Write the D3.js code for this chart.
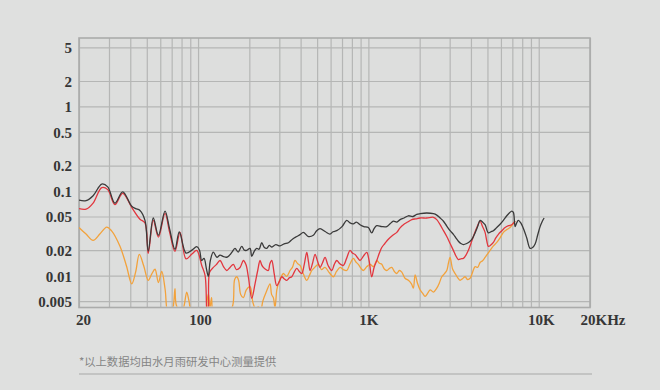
<!DOCTYPE html>
<html><head><meta charset="utf-8">
<script src="https://cdn.jsdelivr.net/npm/d3@7/dist/d3.min.js"></script>
<style>
html,body{margin:0;padding:0;background:#dfe0df;}
svg{display:block;}
</style></head>
<body>
<svg id="chart" width="660" height="390"></svg>
<script>
// ---- data ----
const yTickValues = [5, 2, 1, 0.5, 0.2, 0.1, 0.05, 0.02, 0.01, 0.005];
const yTickLabels = ["5", "2", "1", "0.5", "0.2", "0.1", "0.05", "0.02", "0.01", "0.005"];
const xGridValues = [20,30,40,50,60,70,80,90,100,200,300,400,500,600,700,800,900,1000,2000,3000,4000,5000,6000,7000,8000,9000,10000,20000];
const xTickValues = [20, 100, 1000, 10000, 20000];
const xTickLabels = ["20", "100", "1K", "10K", "20KHz"];
const footnote = "*以上数据均由水月雨研发中心测量提供";

// black series (freq Hz, value)
const blackFreq = [20,22,24.2,27.2,29.5,32.5,36.1,40.8,43,45.6,48.8,51,54.6,58.5,64,68,73.2,77.6,85,92,98.2,102,105,108.4,112,114.9,118,122.9,129,134.6,141,147.4,152,157.7,164.8,172,180.5,187,193,201.9,206.6,214,221,228,236.5,245,253,262,270,286,303,320,339,358,379.7,397,415,445,475,497,520,560,595,620,652,700,746,780,816,850,893,940,1000,1046,1080,1120,1200,1282,1340,1402,1470,1535,1620,1717,1820,1923,2011,2200,2408,2520,2636,2760,2885,3017,3155,3260,3375,3490,3611,3780,3954,4100,4230,4380,4526,4680,4842,5063,5240,5417,5670,5932,6200,6493,6720,6947,7100,7264,7420,7596,7850,8128,8500,8899,9200,9522,9850,10187,10500,10756];
const blackVal  = [0.078,0.077,0.088,0.121,0.112,0.072,0.098,0.066,0.062,0.059,0.045,0.0195,0.048,0.030,0.058,0.036,0.0205,0.033,0.0185,0.020,0.022,0.020,0.0151,0.016,0.012,0.0098,0.015,0.019,0.0165,0.0175,0.0168,0.0165,0.0172,0.0188,0.021,0.019,0.0222,0.020,0.0199,0.021,0.0169,0.0195,0.021,0.0205,0.0245,0.0215,0.021,0.0228,0.0218,0.0232,0.0225,0.0238,0.0245,0.027,0.029,0.0305,0.0325,0.029,0.030,0.034,0.036,0.033,0.031,0.033,0.034,0.038,0.045,0.042,0.041,0.043,0.040,0.038,0.037,0.032,0.036,0.039,0.038,0.038,0.041,0.044,0.043,0.046,0.048,0.051,0.050,0.053,0.054,0.055,0.054,0.052,0.048,0.044,0.0385,0.034,0.0308,0.028,0.0255,0.024,0.0233,0.024,0.0255,0.028,0.032,0.038,0.045,0.043,0.040,0.032,0.033,0.034,0.037,0.0405,0.045,0.051,0.055,0.058,0.056,0.038,0.042,0.045,0.042,0.036,0.028,0.021,0.0215,0.0237,0.030,0.038,0.044,0.048];

// red series
const redFreq = [20,22,24.2,27.2,29.5,32.5,36.1,40.8,45.6,48.8,51,54.6,58.5,64,68,73.2,78.4,85,92,98.2,105.1,110,112.9,115,117,122.9,128,134.6,141,147.4,154,161.1,168,176.4,184.5,191,197.3,206.6,216,224,231.1,236,241.7,250,258.6,264,270.8,280,289.7,300,310,320,331.7,343,354.9,367,379.7,393,406.3,420,434.8,445,454.6,470,486.4,503,520.4,538,556.5,580,609.4,630,652,680,712.9,745,780.4,805,835,860,893,935,978,1010,1046,1080,1120,1160,1198,1250,1310,1390,1468,1530,1605,1700,1798,1900,2011,2202,2408,2520,2636,2760,2885,3017,3155,3260,3375,3490,3611,3740,3864,4000,4134,4330,4526,4680,4842,4950,5063,5230,5417,5600,5797,6080,6346,6650,6947,7264];
const redVal  = [0.062,0.061,0.072,0.110,0.104,0.069,0.094,0.064,0.0465,0.042,0.0183,0.045,0.0285,0.0545,0.033,0.0194,0.0325,0.0158,0.018,0.0199,0.0132,0.010,0.0035,0.0042,0.011,0.0125,0.0135,0.0151,0.0128,0.0115,0.0125,0.0136,0.0118,0.0125,0.0151,0.0135,0.0097,0.0054,0.0080,0.0115,0.0151,0.0135,0.0125,0.0118,0.0115,0.0138,0.0151,0.0105,0.0076,0.0085,0.0097,0.0092,0.0088,0.0094,0.0097,0.0110,0.0122,0.0112,0.0106,0.0135,0.0188,0.0145,0.0115,0.0140,0.0178,0.0148,0.0125,0.0142,0.0164,0.0132,0.0115,0.0135,0.0151,0.0138,0.0132,0.0160,0.0199,0.0185,0.0178,0.0165,0.0151,0.0170,0.0188,0.0150,0.0097,0.0125,0.0151,0.0185,0.0215,0.0240,0.0269,0.0300,0.0325,0.0365,0.040,0.043,0.046,0.047,0.048,0.048,0.049,0.046,0.040,0.034,0.029,0.024,0.0199,0.0172,0.0155,0.0158,0.016,0.0175,0.0199,0.024,0.029,0.037,0.044,0.038,0.0325,0.026,0.0222,0.023,0.0247,0.028,0.0308,0.034,0.037,0.039,0.040,0.044];

// orange series
const orangeFreq = [20,22,24.2,26.5,29.1,31,34.8,38,40.8,43,45.2,48,51,53.5,55.9,58.5,61.2,64,66.9,70,72,73.2,74.5,80,83,85.8,88.5,92,100,110,113,115,117.5,120,123,130,150,160,164,168.7,173,178,184.5,192,201.9,210,218,225.8,233,240,252,264.6,270,276.7,283,290,296.1,306,316.8,331,346.8,358,371.1,385,397.1,415,434.8,450,465.2,485,508.6,530,556.5,590,622.8,650,682,712,746,780,816,845,873,905,934,980,1023,1070,1120,1160,1198,1240,1282,1330,1372,1420,1468,1520,1571,1640,1717,1790,1837,1880,1940,2011,2080,2152,2230,2303,2410,2521,2610,2697,2790,2885,2950,3017,3120,3228,3340,3453,3570,3695,3820,3954,4090,4230,4380,4526,4680,4842,5000,5181,5420,5673,5930,6202,6490,6789,7000,7264];
const orangeVal  = [0.037,0.031,0.0261,0.031,0.0375,0.034,0.0222,0.013,0.0080,0.011,0.0178,0.0130,0.0088,0.0105,0.0119,0.0083,0.0112,0.007,0.0035,0.0035,0.0048,0.0070,0.0045,0.0035,0.0045,0.0064,0.0050,0.0035,0.0035,0.0035,0.0050,0.0061,0.0042,0.0055,0.0035,0.0035,0.0035,0.0045,0.0090,0.0097,0.0088,0.0060,0.0055,0.0068,0.0074,0.0048,0.0040,0.0043,0.0038,0.0050,0.0065,0.0080,0.0060,0.0055,0.0042,0.0068,0.0080,0.0095,0.0106,0.0098,0.0115,0.0125,0.0151,0.0138,0.0132,0.0105,0.0088,0.0100,0.0115,0.0126,0.0136,0.0118,0.0125,0.0108,0.0097,0.0112,0.0125,0.0118,0.0115,0.0138,0.0160,0.0145,0.0136,0.0122,0.0115,0.0128,0.0136,0.0128,0.0151,0.0140,0.0136,0.0120,0.0115,0.0122,0.0125,0.0112,0.0106,0.0115,0.0110,0.0093,0.0088,0.0080,0.0071,0.0102,0.0082,0.0068,0.0062,0.0057,0.0062,0.0068,0.0064,0.0071,0.0082,0.0097,0.0105,0.0115,0.0140,0.0164,0.0120,0.0106,0.0095,0.0088,0.0092,0.0097,0.0090,0.0093,0.0110,0.0128,0.0125,0.0143,0.0150,0.0164,0.0180,0.0199,0.0225,0.0247,0.0280,0.0325,0.0350,0.037,0.040,0.044];

// ---- chart ----
const svg = d3.select("#chart");
const pL = 79, pR = 590, pT = 38, pB = 307.5;
const x = d3.scaleLog().domain([20, 20000]).range([pL, pR]);
const y = d3.scaleLog().domain([0.0042, 6.45]).range([pB, pT]);

svg.append("rect").attr("width",660).attr("height",390).attr("fill","#dfe0df");
svg.append("rect").attr("x",pL).attr("y",pT).attr("width",pR-pL).attr("height",pB-pT).attr("fill","#dddedd");

// grid
const gridColor = "#b5b6b5";
const gx = svg.append("g").attr("transform",`translate(0,${pB})`)
  .call(d3.axisBottom(x).tickValues(xGridValues).tickSize(-(pB-pT)).tickFormat(""));
gx.select(".domain").remove();
gx.selectAll("line").attr("stroke",gridColor).attr("stroke-width",1.2);
const gy = svg.append("g").attr("transform",`translate(${pL},0)`)
  .call(d3.axisLeft(y).tickValues(yTickValues).tickSize(-(pR-pL)).tickFormat(""));
gy.select(".domain").remove();
gy.selectAll("line").attr("stroke",gridColor).attr("stroke-width",1.2);

svg.append("rect").attr("x",pL).attr("y",pT).attr("width",pR-pL).attr("height",pB-pT)
  .attr("fill","none").attr("stroke","#abacab").attr("stroke-width",1.6);

// clip
svg.append("clipPath").attr("id","clip").append("rect")
  .attr("x",pL).attr("y",pT).attr("width",pR-pL).attr("height",pB-pT-1);

const line = d3.line().x(d=>x(d[0])).y(d=>y(d[1])).curve(d3.curveCatmullRom.alpha(0.5));
const series = [
  {f: orangeFreq, v: orangeVal, c: "#f2a23c"},
  {f: redFreq, v: redVal, c: "#e2363e"},
  {f: blackFreq, v: blackVal, c: "#3a3a3a"}
];
const lg = svg.append("g").attr("clip-path","url(#clip)");
series.forEach(s => {
  const pts = s.f.map((f,i)=>[f, s.v[i]]);
  lg.append("path").datum(pts).attr("d", line)
    .attr("fill","none").attr("stroke", s.c).attr("stroke-width",1.3)
    .attr("stroke-linejoin","round");
});

// y labels
const ly = svg.append("g").attr("transform","translate(72,0)")
  .call(d3.axisLeft(y).tickValues(yTickValues).tickSize(0).tickPadding(0)
    .tickFormat((d,i)=>yTickLabels[i]));
ly.select(".domain").remove();
ly.selectAll("text").attr("font-family","'Liberation Serif', serif").attr("font-weight","bold")
  .attr("font-size","15px").attr("fill","#363636").attr("dy","0.36em");

// x labels
const lx = svg.append("g").attr("transform","translate(0,314)")
  .call(d3.axisBottom(x).tickValues(xTickValues).tickSize(0).tickPadding(0)
    .tickFormat((d,i)=>xTickLabels[i]));
lx.select(".domain").remove();
lx.selectAll("text").attr("font-family","'Liberation Serif', serif").attr("font-weight","bold")
  .attr("font-size","15px").attr("fill","#363636").attr("dy","0.75em");
lx.selectAll(".tick").filter(d=>d===20).select("text").attr("dx",4);
lx.selectAll(".tick").filter(d=>d===100).select("text").attr("dx",2);
lx.selectAll(".tick").filter(d=>d===10000).select("text").attr("dx",2);
lx.selectAll(".tick").filter(d=>d===20000).select("text").attr("text-anchor","start").attr("dx",-10);

// footnote
svg.append("text").attr("x",79).attr("y",365.5).text(footnote)
  .attr("font-family","'Noto Sans CJK SC', sans-serif").attr("font-size","11.3px").attr("fill","#858585");
svg.append("line").attr("x1",79).attr("x2",592).attr("y1",374).attr("y2",374)
  .attr("stroke","#c3c4c3").attr("stroke-width",2);
</script>
</body></html>
